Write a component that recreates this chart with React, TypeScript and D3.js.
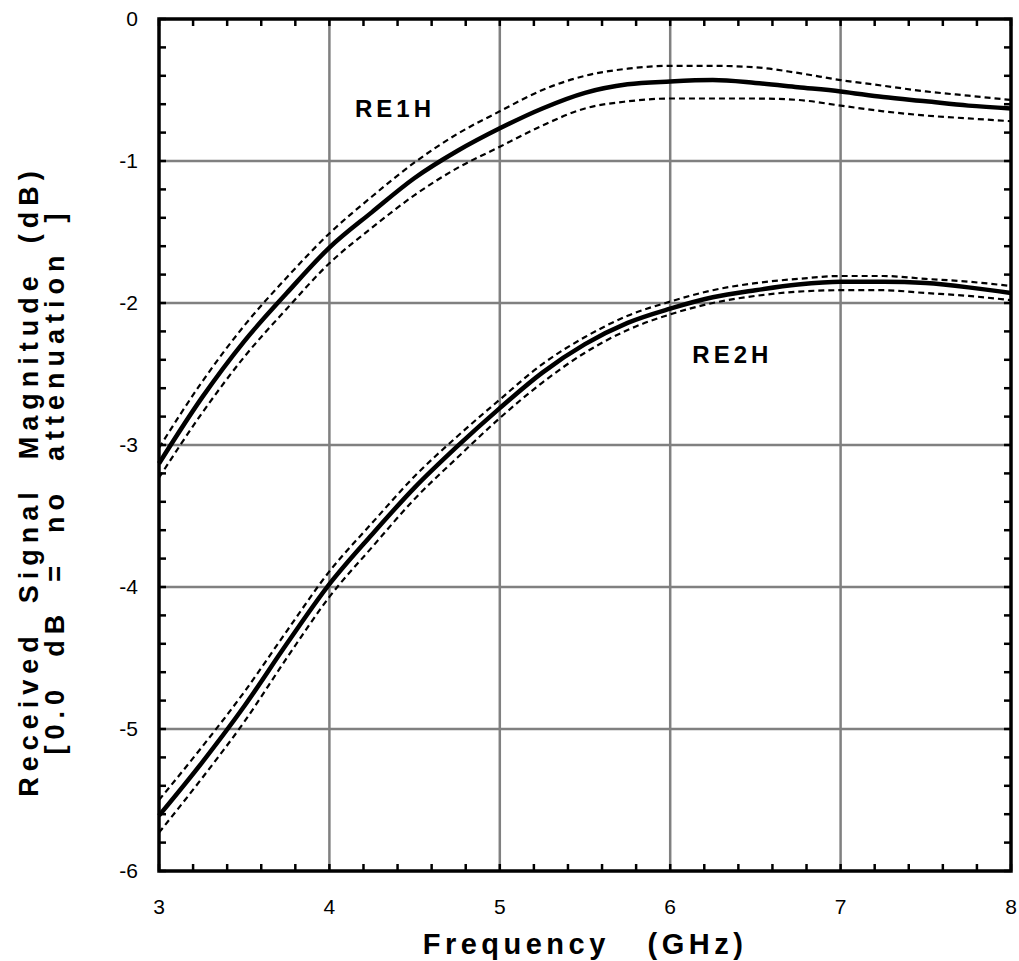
import * as d3 from "d3";

const freqs = [3, 3.25, 3.5, 3.75, 4, 4.25, 4.5, 4.75, 5, 5.25, 5.5, 5.75, 6, 6.25, 6.5, 6.75, 7, 7.25, 7.5, 7.75, 8];

const re1h = [-3.13, -2.67, -2.27, -1.93, -1.61, -1.36, -1.12, -0.93, -0.77, -0.63, -0.52, -0.46, -0.44, -0.43, -0.45, -0.48, -0.51, -0.55, -0.58, -0.61, -0.63];
const re1hUpper = [-3.02, -2.56, -2.16, -1.82, -1.51, -1.25, -1.01, -0.81, -0.65, -0.5, -0.4, -0.35, -0.33, -0.33, -0.34, -0.38, -0.43, -0.47, -0.51, -0.54, -0.57];
const re1hLower = [-3.23, -2.78, -2.38, -2.04, -1.72, -1.47, -1.24, -1.05, -0.9, -0.75, -0.63, -0.58, -0.56, -0.56, -0.56, -0.57, -0.61, -0.65, -0.68, -0.7, -0.72];

const re2h = [-5.61, -5.24, -4.84, -4.4, -3.98, -3.63, -3.3, -3.01, -2.74, -2.49, -2.29, -2.14, -2.04, -1.96, -1.91, -1.87, -1.85, -1.85, -1.86, -1.89, -1.93];
const re2hUpper = [-5.5, -5.13, -4.74, -4.31, -3.89, -3.55, -3.22, -2.94, -2.68, -2.43, -2.24, -2.09, -1.99, -1.91, -1.86, -1.83, -1.81, -1.81, -1.83, -1.85, -1.88];
const re2hLower = [-5.73, -5.35, -4.95, -4.5, -4.07, -3.72, -3.38, -3.09, -2.81, -2.56, -2.35, -2.19, -2.08, -2.0, -1.95, -1.92, -1.91, -1.91, -1.93, -1.95, -1.98];

const xTicks = [3, 4, 5, 6, 7, 8];
const yTicks = [0, -1, -2, -3, -4, -5, -6];

const curveLabels = [
  { text: "RE1H", f: 4.15, v: -0.69 },
  { text: "RE2H", f: 6.13, v: -2.42 },
];

const pre = { whiteSpace: "pre" as const };

export default function App() {
  const width = 1019;
  const height = 961;
  const left = 159, right = 1011, top = 19, bottom = 871;

  const x = d3.scaleLinear([3, 8], [left, right]);
  const y = d3.scaleLinear([-6, 0], [bottom, top]);

  const line = d3.line<number>((_, i) => x(freqs[i]), (d) => y(d)).curve(d3.curveMonotoneX);

  const xMinor = d3.range(3, 8.001, 0.2).filter((v) => Math.abs(v - Math.round(v)) > 0.01);
  const yMinor = d3.range(-6, 0.001, 0.2).filter((v) => Math.abs(v - Math.round(v)) > 0.01);
  const tl = 7;

  const font = "Liberation Sans, Arial, sans-serif";

  return (
    <svg width={width} height={height} style={{ position: "absolute", left: 0, top: 0, background: "white" }} fontFamily={font}>
      {/* grid */}
      <g stroke="#808080" strokeWidth={2.5}>
        {xTicks.slice(1, -1).map((t) => (
          <line key={"gx" + t} x1={x(t)} x2={x(t)} y1={top} y2={bottom} />
        ))}
        {yTicks.slice(1, -1).map((t) => (
          <line key={"gy" + t} x1={left} x2={right} y1={y(t)} y2={y(t)} />
        ))}
      </g>
      {/* minor + major ticks, inside on all sides */}
      <g stroke="black" strokeWidth={2.5}>
        {[...xMinor, ...xTicks].map((t, i) => (
          <g key={"tx" + i}>
            <line x1={x(t)} x2={x(t)} y1={bottom} y2={bottom - tl} />
            <line x1={x(t)} x2={x(t)} y1={top} y2={top + tl} />
          </g>
        ))}
        {[...yMinor, ...yTicks].map((t, i) => (
          <g key={"ty" + i}>
            <line x1={left} x2={left + tl} y1={y(t)} y2={y(t)} />
            <line x1={right} x2={right - tl} y1={y(t)} y2={y(t)} />
          </g>
        ))}
      </g>
      {/* curves */}
      <g fill="none" stroke="black">
        <path d={line(re1hUpper) ?? ""} strokeWidth={2.2} strokeDasharray="6,4" />
        <path d={line(re1hLower) ?? ""} strokeWidth={2.2} strokeDasharray="6,4" />
        <path d={line(re1h) ?? ""} strokeWidth={4.5} />
        <path d={line(re2hUpper) ?? ""} strokeWidth={2.2} strokeDasharray="6,4" />
        <path d={line(re2hLower) ?? ""} strokeWidth={2.2} strokeDasharray="6,4" />
        <path d={line(re2h) ?? ""} strokeWidth={4.5} />
      </g>
      {/* frame */}
      <rect x={left} y={top} width={right - left} height={bottom - top} fill="none" stroke="black" strokeWidth={3.5} />
      {/* tick labels */}
      <g fontSize={21} fill="black">
        {xTicks.map((t) => (
          <text key={"lx" + t} x={x(t)} y={bottom + 43} textAnchor="middle">{t}</text>
        ))}
        {yTicks.map((t) => (
          <text key={"ly" + t} x={left - 21} y={y(t) + 7} textAnchor="end">{t}</text>
        ))}
      </g>
      {/* curve labels */}
      <g fontSize={24} fontWeight="bold" letterSpacing={4}>
        {curveLabels.map((c) => (
          <text key={c.text} x={x(c.f)} y={y(c.v)}>{c.text}</text>
        ))}
      </g>
      {/* axis titles */}
      <text x={(left + right) / 2} y={954} textAnchor="middle" fontSize={29} fontWeight="bold" letterSpacing={4.5} xmlSpace="preserve" style={pre}>
        {"Frequency   (GHz)"}
      </text>
      <g transform={`translate(38,481) rotate(-90)`} fontSize={27} fontWeight="bold" letterSpacing={6} textAnchor="middle">
        <text x={0} y={0} xmlSpace="preserve" style={pre}>{"Received  Signal  Magnitude  (dB)"}</text>
        <text x={0} y={26} xmlSpace="preserve" style={pre}>{"[0.0  dB  =  no  attenuation  ]"}</text>
      </g>
    </svg>
  );
}
